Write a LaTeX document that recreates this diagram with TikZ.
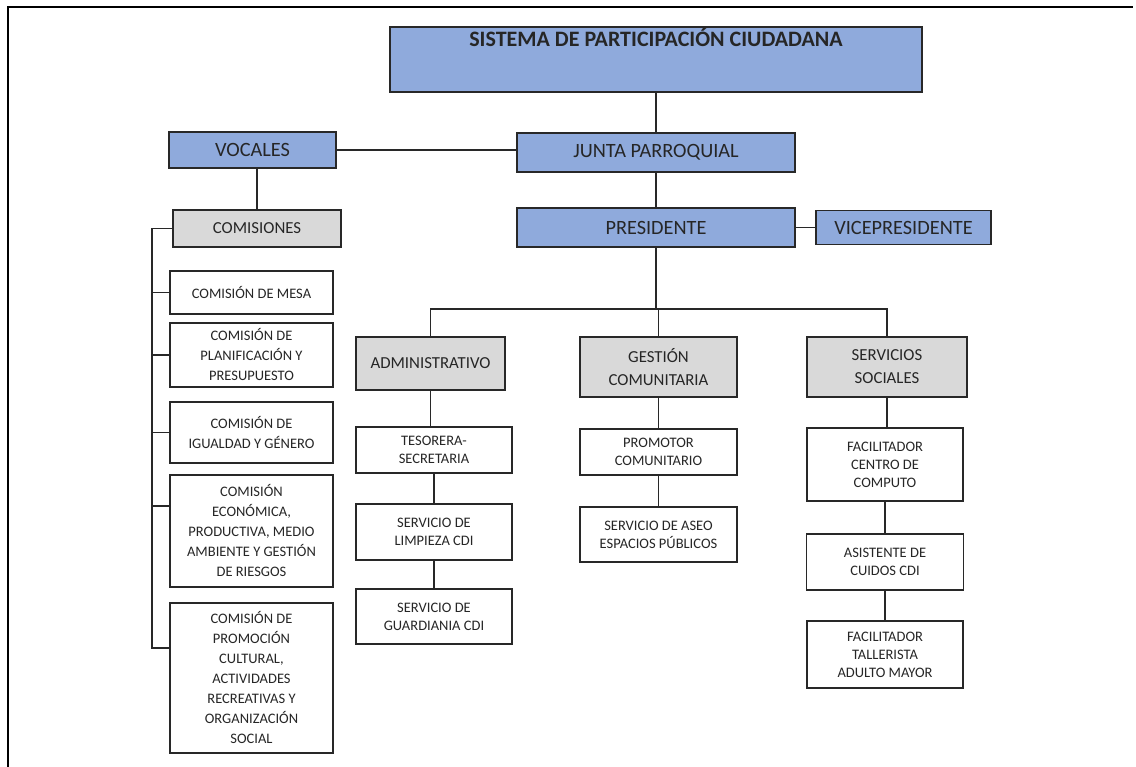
\documentclass[tikz,border=0pt]{standalone}
\usepackage{fontspec}
\setmainfont{Carlito}
\usetikzlibrary{positioning,calc}
\definecolor{boxblue}{RGB}{143,170,220}
\definecolor{boxgray}{RGB}{217,217,217}
\definecolor{edgegray}{RGB}{40,40,40}

\begin{document}
\begin{tikzpicture}[
  x=1pt,y=1pt,
  box/.style={draw=edgegray,line width=1.8pt,align=center,inner sep=2pt,outer sep=0pt,text=black!85},
  head/.style={box,fill=boxblue,font=\fontsize{20.3}{23}\selectfont},
  area/.style={box,fill=boxgray,font=\fontsize{16.8}{23}\selectfont},
  unit/.style={box,fill=white,font=\fontsize{14.5}{18}\selectfont},
  comm/.style={box,fill=white,font=\fontsize{14.5}{20}\selectfont,minimum width=163pt},
  link/.style={draw=edgegray,line width=1.4pt},
]
\useasboundingbox (0,0) rectangle (1136,767);

% page frame
\draw[line width=2.8pt] (8,0) -- (8,760) -- (133,760);
\draw[line width=1.2pt] (133,760) -- (1019,760);
\draw[line width=2.8pt] (1019,760) -- (1133,760);

% top of the chart
\node[head,font=\fontsize{22}{26}\selectfont\bfseries,minimum width=532pt,minimum height=65pt,text height=14pt,text depth=39pt] (sistema) at (656,707.5) {SISTEMA DE PARTICIPACIÓN CIUDADANA};
\node[head,minimum width=278pt,minimum height=39pt,below=41pt of sistema] (junta) {JUNTA PARROQUIAL};
\node[head,minimum width=278pt,minimum height=39pt,below=36pt of junta] (presidente) {PRESIDENTE};
\node[head,minimum width=175pt,minimum height=34pt,right=21pt of presidente] (vice) {VICEPRESIDENTE};
\node[head,minimum width=167pt,minimum height=36pt,left=181pt of junta,yshift=2.5pt] (vocales) {VOCALES};
\node[area,minimum width=168pt,minimum height=37pt,below=42pt of vocales,xshift=4.5pt] (comisiones) {COMISIONES};

% commissions
\node[comm,minimum height=43pt,below=24pt of comisiones.south west,anchor=north west,xshift=-3pt] (mesa) {COMISIÓN DE MESA};
\node[comm,minimum height=64pt,below=9pt of mesa.south west,anchor=north west] (plan) {COMISIÓN DE\\PLANIFICACIÓN Y\\PRESUPUESTO};
\node[comm,minimum height=61pt,below=15pt of plan.south west,anchor=north west] (igualdad) {COMISIÓN DE\\IGUALDAD Y GÉNERO};
\node[comm,minimum height=112pt,below=12pt of igualdad.south west,anchor=north west] (economica) {COMISIÓN\\ECONÓMICA,\\PRODUCTIVA, MEDIO\\AMBIENTE Y GESTIÓN\\DE RIESGOS};
\node[comm,minimum height=150pt,below=16pt of economica.south west,anchor=north west] (promocion) {COMISIÓN DE\\PROMOCIÓN\\CULTURAL,\\ACTIVIDADES\\RECREATIVAS Y\\ORGANIZACIÓN\\SOCIAL};

% areas
\node[area,minimum width=157pt,minimum height=60pt,below=90pt of presidente,xshift=2.5pt] (gestion) {GESTIÓN\\COMUNITARIA};
\node[area,minimum width=149pt,minimum height=53pt,left=75pt of gestion.north west,anchor=north east] (admin) {ADMINISTRATIVO};
\node[area,minimum width=160pt,minimum height=60pt,right=70pt of gestion.north east,anchor=north west] (servicios) {SERVICIOS\\SOCIALES};

% staff
\node[unit,minimum width=156pt,minimum height=46pt,below=37pt of admin.south west,anchor=north west] (tesorera) {TESORERA-\\SECRETARIA};
\node[unit,minimum width=156pt,minimum height=56pt,below=31pt of tesorera] (limpieza) {SERVICIO DE\\LIMPIEZA CDI};
\node[unit,minimum width=156pt,minimum height=55pt,below=29pt of limpieza] (guardiania) {SERVICIO DE\\GUARDIANIA CDI};
\node[unit,minimum width=157pt,minimum height=46pt,below=32pt of gestion] (promotor) {PROMOTOR\\COMUNITARIO};
\node[unit,minimum width=157pt,minimum height=55pt,below=32pt of promotor] (aseo) {SERVICIO DE ASEO\\ESPACIOS PÚBLICOS};
\node[unit,minimum width=156pt,minimum height=73pt,below=31pt of servicios.south west,anchor=north west] (centro) {FACILITADOR\\CENTRO DE\\COMPUTO};
\node[unit,minimum width=157pt,minimum height=56pt,below=33pt of centro] (asistente) {ASISTENTE DE\\CUIDOS CDI};
\node[unit,minimum width=156pt,minimum height=67pt,below=31pt of asistente] (tallerista) {FACILITADOR\\TALLERISTA\\ADULTO MAYOR};

\coordinate[below=62pt of presidente.south] (bus);
\coordinate[left=21pt of comisiones.west] (rail);

\draw[link] (sistema) -- (junta);
\draw[link] (vocales) -- (vocales -| junta.west);
\draw[link] (junta) -- (presidente);
\draw[link] (presidente) -- (vice);
\draw[link] (comisiones.north) -- (comisiones.north |- vocales.south);
\draw[link] (presidente) -- (bus);
\draw[link] (admin.north) |- (bus) -| (servicios.north);
\draw[link] (gestion.north) -- (gestion.north |- bus);
\draw[link] (admin.south) -- (admin.south |- tesorera.north);
\draw[link] (tesorera) -- (limpieza);
\draw[link] (limpieza) -- (guardiania);
\draw[link] (gestion) -- (promotor);
\draw[link] (promotor) -- (aseo);
\draw[link] (servicios.south) -- (servicios.south |- centro.north);
\draw[link] (centro) -- (asistente);
\draw[link] (asistente) -- (tallerista);
\draw[link] (comisiones.west) -- (rail) |- ([yshift=30pt]promocion.west);
\foreach \c/\s in {mesa/0pt,plan/0pt,igualdad/0pt,economica/25pt}
  \draw[link] ([yshift=\s]\c.west) -- ++(-18pt,0);

\end{tikzpicture}
\end{document}
